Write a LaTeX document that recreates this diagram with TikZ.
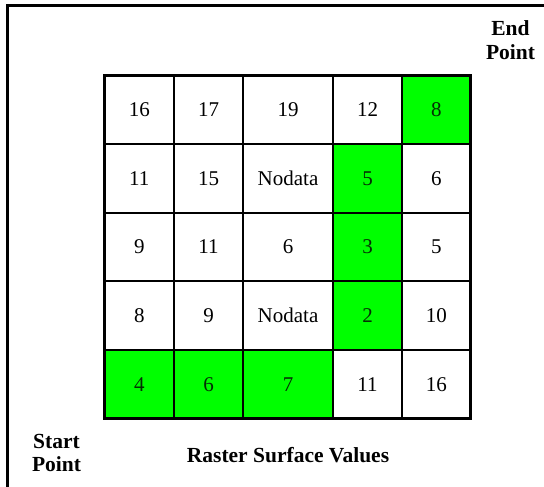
\documentclass[tikz,border=0pt]{standalone}
\usepackage{fontspec}
\setmainfont{Liberation Serif}
\definecolor{pathgreen}{RGB}{0,255,0}
\definecolor{pathtext}{RGB}{5,45,5}
\begin{document}
\begin{tikzpicture}[x=1pt,y=-1pt,
  cell/.style={draw=black, line width=2pt, inner sep=0pt, outer sep=0pt,
    minimum height=68.6pt, font=\fontsize{21}{24}\selectfont},
  pathcell/.style={cell, fill=pathgreen, text=pathtext},
  w1/.style={minimum width=69.5pt},
  w2/.style={minimum width=69pt},
  w3/.style={minimum width=90pt},
  w4/.style={minimum width=69pt},
  w5/.style={minimum width=68.5pt},
  label/.style={align=center, inner sep=0pt, font=\fontsize{21.5}{23.5}\selectfont\bfseries}]
  \useasboundingbox (0,0) rectangle (544,487);
  % open frame: top and left edges only
  \draw[line width=3pt] (7.5,487) -- (7.5,5.5) -- (544,5.5);

  % row 1
  \node[cell,w1]     (c11) at (139.25,109.75) {16};
  \node[cell,w2]     (c12) at (208.5,109.75)  {17};
  \node[cell,w3]     (c13) at (288,109.75)    {19};
  \node[cell,w4]     (c14) at (367.5,109.75)  {12};
  \node[pathcell,w5] (c15) at (436.25,109.75) {8};
  % row 2
  \node[cell,w1]     (c21) at (139.25,178.35) {11};
  \node[cell,w2]     (c22) at (208.5,178.35)  {15};
  \node[cell,w3]     (c23) at (288,178.35)    {Nodata};
  \node[pathcell,w4] (c24) at (367.5,178.35)  {5};
  \node[cell,w5]     (c25) at (436.25,178.35) {6};
  % row 3
  \node[cell,w1]     (c31) at (139.25,246.95) {9};
  \node[cell,w2]     (c32) at (208.5,246.95)  {11};
  \node[cell,w3]     (c33) at (288,246.95)    {6};
  \node[pathcell,w4] (c34) at (367.5,246.95)  {3};
  \node[cell,w5]     (c35) at (436.25,246.95) {5};
  % row 4
  \node[cell,w1]     (c41) at (139.25,315.55) {8};
  \node[cell,w2]     (c42) at (208.5,315.55)  {9};
  \node[cell,w3]     (c43) at (288,315.55)    {Nodata};
  \node[pathcell,w4] (c44) at (367.5,315.55)  {2};
  \node[cell,w5]     (c45) at (436.25,315.55) {10};
  % row 5
  \node[pathcell,w1] (c51) at (139.25,384.15) {4};
  \node[pathcell,w2] (c52) at (208.5,384.15)  {6};
  \node[pathcell,w3] (c53) at (288,384.15)    {7};
  \node[cell,w4]     (c54) at (367.5,384.15)  {11};
  \node[cell,w5]     (c55) at (436.25,384.15) {16};

  % heavier outer border of the grid
  \draw[line width=3pt] (c11.north west) rectangle (c55.south east);

  \node[label] (endpt)   at (510.5,40)  {End\\Point};
  \node[label] (startpt) at (56.5,453)  {Start\\Point};
  \node[label] (caption) at (288,455) {Raster Surface Values};
\end{tikzpicture}
\end{document}
